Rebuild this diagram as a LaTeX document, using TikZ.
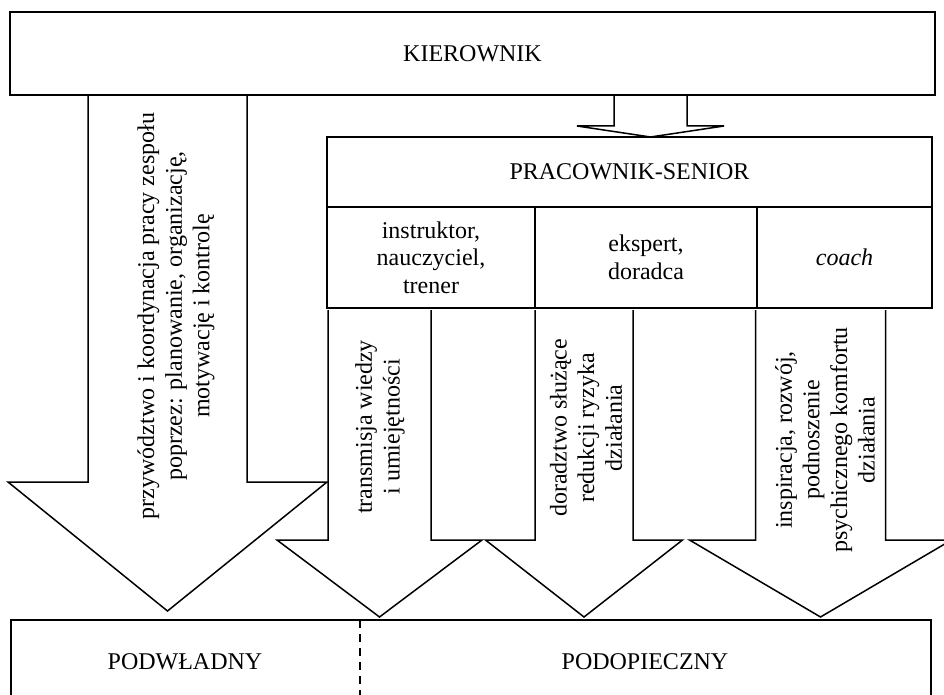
\documentclass[tikz,border=0pt]{standalone}
\usepackage{fontspec}
\setmainfont{Liberation Serif}
\usepackage{tikz}
\usetikzlibrary{positioning}

\tikzset{
  box/.style={draw, line width=1.5pt, align=center, inner sep=0pt, outer sep=0pt},
  pointer/.style={draw, line width=1.5pt, fill=white, line join=miter},
  turned/.style={rotate=90, align=center, inner sep=0pt}
}

\begin{document}
\begin{tikzpicture}[x=1pt, y=-1pt, font=\fontsize{24}{27.6}\selectfont]
    \useasboundingbox (0,0) rectangle (944,695);

    % block arrows: centre / half shaft / half head / top / neck / tip
    \foreach \cx/\w/\h/\yt/\yn/\yp in {167.5/79.5/159.5/95/482/611, 650.5/36.5/73.5/95/126/137,
        379.5/51.5/102.5/310/540/617, 584/49/98.5/310/540/617, 820.5/65/131/310/540/617}
    \draw[pointer] ({\cx-\w},\yt) -- ({\cx-\w},\yn) -- ({\cx-\h},\yn) -- (\cx,\yp)
        -- ({\cx+\h},\yn) -- ({\cx+\w},\yn) -- ({\cx+\w},\yt);

    \node[box, minimum width=925pt, minimum height=83pt] (kier) at (472.5,53.5) {KIEROWNIK};

    \node[box, minimum width=605pt, minimum height=70pt] (senior) at (629.5,172) {PRACOWNIK-SENIOR};
    \node[box, minimum width=208pt, minimum height=101pt] (instr) at (431,257.5)
        {instruktor,\\ nauczyciel,\\ trener};
    \node[box, minimum width=222pt, minimum height=101pt, right=0pt of instr] (ekspert)
        {ekspert,\\ doradca};
    \node[box, minimum width=175pt, minimum height=101pt, right=0pt of ekspert] (coach)
        {\itshape coach};

    \node[turned] (lead) at (176,316)
        {przywództwo i koordynacja pracy zespołu\\ poprzez: planowanie, organizację,\\ motywację i kontrolę};
    \node[turned] (transm) at (380,427) {transmisja wiedzy\\ i umiejętności};
    \node[turned] (dorad) at (586,428) {doradztwo służące\\ redukcji ryzyka\\ działania};
    \node[turned] (inspir) at (825,440)
        {inspiracja, rozwój,\\ podnoszenie\\ psychicznego komfortu\\ działania};

    \draw[line width=1.5pt] (11,620) rectangle (931,705);
    \coordinate (cut) at (360,620);
    \coordinate (cutend) at (360,705);
    \draw[line width=1.2pt, dash pattern=on 8pt off 6pt] (cut) -- (cutend);

    \node (podw) at (185,662) {PODWŁADNY};
    \node (podop) at (645,662) {PODOPIECZNY};
\end{tikzpicture}
\end{document}
